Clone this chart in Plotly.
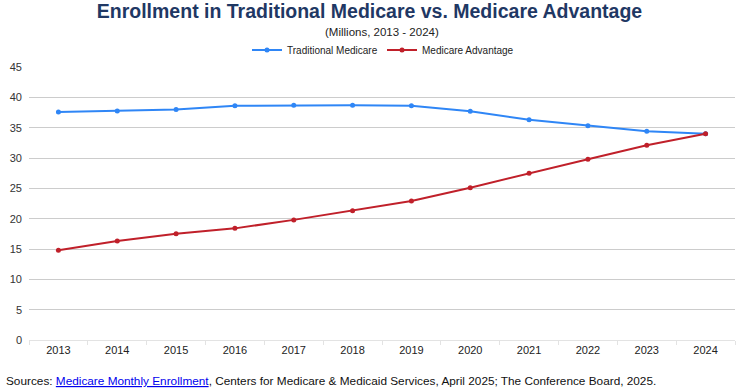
import plotly.graph_objects as go

years = ["2013","2014","2015","2016","2017","2018","2019","2020","2021","2022","2023","2024"]
traditional = [37.6, 37.75, 38.0, 38.6, 38.7, 38.7, 38.6, 37.7, 36.3, 35.3, 34.4, 34.0]
advantage = [14.8, 16.3, 17.5, 18.4, 19.8, 21.3, 22.9, 25.1, 27.5, 29.8, 32.1, 34.0]
y_ticks = [0, 5, 10, 15, 20, 25, 30, 35, 40, 45]

BLUE = "#2f86f6"
RED = "#c0202a"
FONT = "Liberation Sans, Arial, sans-serif"

W, H = 739, 389
L, R, T, B = 29, 4, 67, 49
PH = H - T - B

def py(pix):
    """page pixel y -> paper y"""
    return (H - B - pix) / PH

fig = go.Figure()
fig.add_trace(go.Scatter(x=years, y=traditional, name="Traditional Medicare", mode="lines+markers",
                         line=dict(color=BLUE, width=2), marker=dict(size=5, color=BLUE)))
fig.add_trace(go.Scatter(x=years, y=advantage, name="Medicare Advantage", mode="lines+markers",
                         line=dict(color=RED, width=2), marker=dict(size=5, color=RED)))

fig.update_layout(
    width=W, height=H,
    margin=dict(l=L, r=R, t=T, b=B, autoexpand=False),
    paper_bgcolor="white", plot_bgcolor="white",
    font=dict(family=FONT, color="#333333", size=11),
    title=dict(text="<b>Enrollment in Traditional Medicare vs. Medicare Advantage</b>",
               x=0.5, xanchor="center", y=0.99, yanchor="top",
               font=dict(family=FONT, size=19.5, color="#1f3864")),
    legend=dict(orientation="h", x=0.5, xanchor="center", y=py(50), yanchor="middle",
                font=dict(size=10, color="#222222"), itemwidth=30, traceorder="normal",
                entrywidth=90, entrywidthmode="pixels",
                bgcolor="rgba(0,0,0,0)", tracegroupgap=0),
    showlegend=True,
)
fig.add_annotation(text="(Millions, 2013 - 2024)", x=0.5, xref="paper", xanchor="center",
                   y=py(32), yref="paper", yanchor="middle", showarrow=False,
                   font=dict(family=FONT, size=11.5, color="#222222"))
fig.add_annotation(text='Sources: <a href="https://data.cms.gov/" style="color:#0000ee"><u>Medicare Monthly Enrollment</u></a>, Centers for Medicare &amp; Medicaid Services, April 2025; The Conference Board, 2025.',
                   x=-(L - 4) / (W - L - R), xref="paper", xanchor="left",
                   y=py(381), yref="paper", yanchor="middle", showarrow=False,
                   font=dict(family=FONT, size=11.8, color="#111111"))

fig.update_xaxes(type="category", range=[-0.5, len(years) - 0.5], showgrid=False, showline=True,
                 linecolor="#e3e3e3", linewidth=1,
                 ticks="outside", tickson="boundaries", ticklen=4, tickcolor="#e3e3e3",
                 tickfont=dict(size=11, color="#222222"))
fig.update_yaxes(range=[0, 45], tickvals=y_ticks, showgrid=True, gridcolor="#cccccc", gridwidth=1,
                 zeroline=False, showline=False, tickfont=dict(size=11, color="#333333"), ticklabelstandoff=6)

fig.write_html("out.html", config={"displayModeBar": False},
               post_script="document.body.style.margin='0';document.body.style.overflow='hidden';")
